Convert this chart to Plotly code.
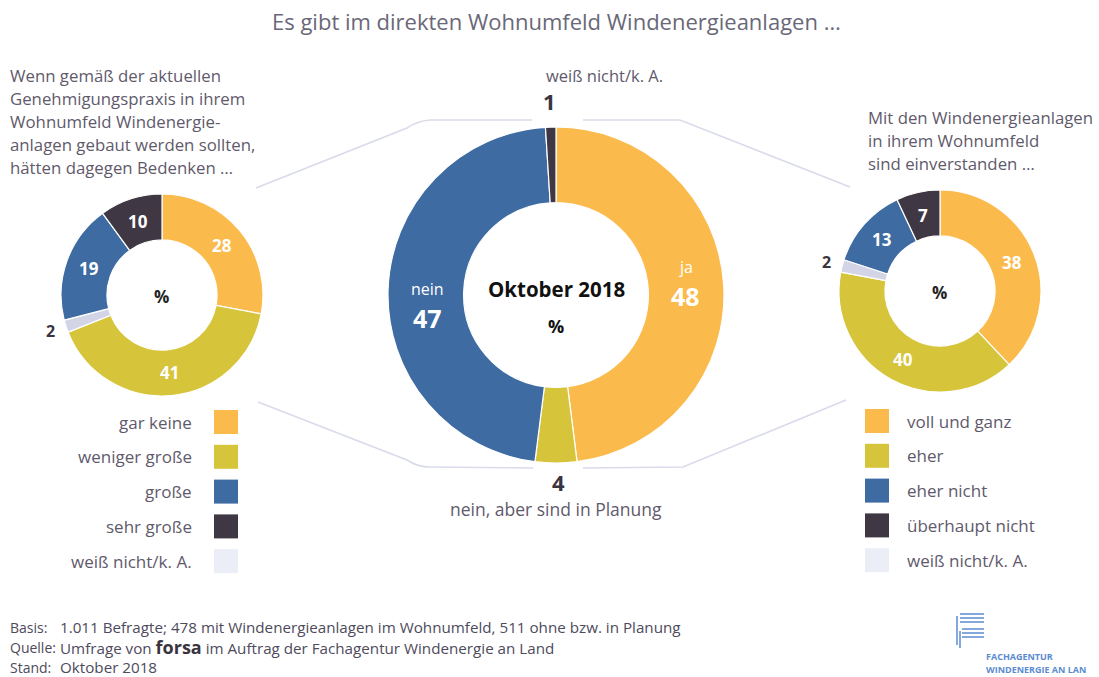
import math
import plotly.graph_objects as go

W, H = 1099, 677

# ---------------- data ----------------
center_labels = ["ja", "nein, aber sind in Planung", "nein", "weiß nicht/k. A."]
center_values = [48, 4, 47, 1]

left_labels = ["gar keine", "weniger große", "weiß nicht/k. A.", "große", "sehr große"]
left_values = [28, 41, 2, 19, 10]

right_labels = ["voll und ganz", "eher", "weiß nicht/k. A.", "eher nicht", "überhaupt nicht"]
right_values = [38, 40, 2, 13, 7]

left_legend = ["gar keine", "weniger große", "große", "sehr große", "weiß nicht/k. A."]
right_legend = ["voll und ganz", "eher", "eher nicht", "überhaupt nicht", "weiß nicht/k. A."]

title = "Es gibt im direkten Wohnumfeld Windenergieanlagen …"
left_question = ["Wenn gemäß der aktuellen", "Genehmigungspraxis in ihrem",
                 "Wohnumfeld Windenergie-", "anlagen gebaut werden sollten,",
                 "hätten dagegen Bedenken …"]
right_question = ["Mit den Windenergieanlagen", "in ihrem Wohnumfeld", "sind einverstanden …"]

# ---------------- style ----------------
ORANGE = "#FBBB4C"
YELLOW = "#D6C43B"
BLUE = "#3E6BA2"
DARK = "#3F3743"
LIGHT = "#D3D5E6"
LEGLIGHT = "#ECEEF7"
TXT = "#5F5A6B"
FONT = "Open Sans, Noto Sans, sans-serif"

center_colors = [ORANGE, YELLOW, BLUE, DARK]
small_colors = [ORANGE, YELLOW, LIGHT, BLUE, DARK]
legend_colors = [ORANGE, YELLOW, BLUE, DARK, LEGLIGHT]

# pie geometry (pixels)
pies = {
    "left": dict(cx=162, cy=295, r=101, hole=0.545),
    "center": dict(cx=556, cy=295, r=168, hole=0.55),
    "right": dict(cx=940, cy=291, r=101, hole=0.545),
}


def domain(p):
    return dict(x=[(p["cx"] - p["r"]) / W, (p["cx"] + p["r"]) / W],
                y=[1 - (p["cy"] + p["r"]) / H, 1 - (p["cy"] - p["r"]) / H])


def slice_points(values, p, rad_frac):
    """mid-angle positions (pixels) of the slices, clockwise from 12 o'clock"""
    tot = sum(values)
    cum = 0
    pts = []
    for v in values:
        mid = (cum + v / 2) / tot * 2 * math.pi
        cum += v
        rr = p["r"] * rad_frac
        pts.append((p["cx"] + rr * math.sin(mid), p["cy"] - rr * math.cos(mid)))
    return pts


fig = go.Figure()

for key, labels, values, colors in [
    ("left", left_labels, left_values, small_colors),
    ("center", center_labels, center_values, center_colors),
    ("right", right_labels, right_values, small_colors),
]:
    p = pies[key]
    fig.add_trace(go.Pie(
        labels=labels, values=values, sort=False, direction="clockwise",
        rotation=0, hole=p["hole"], domain=domain(p),
        marker=dict(colors=colors, line=dict(color="white", width=1.2)),
        textinfo="none", hoverinfo="label+value", showlegend=False,
    ))

annotations = []


def ann(x, y, text, size=17, color=TXT, xanchor="center", yanchor="middle",
        family=FONT, bold=False):
    if bold:
        text = "<b>" + text + "</b>"
    annotations.append(dict(x=x, y=y, xref="x", yref="y", text=text,
                            showarrow=False, xanchor=xanchor, yanchor=yanchor,
                            font=dict(size=size, color=color, family=family)))


# title
ann(556, 21, title, size=22, color="#6A6878")

# left question text
for i, line in enumerate(left_question):
    ann(8, 75 + i * 23, line, size=16.8, xanchor="left")
# right question text
for i, line in enumerate(right_question):
    ann(866, 117 + i * 23, line, size=16.8, xanchor="left")

# small donut labels
for key, values in [("left", left_values), ("right", right_values)]:
    p = pies[key]
    mid_pts = slice_points(values, p, 0.77)
    out_pts = slice_points(values, p, 1.16)
    for i, v in enumerate(values):
        if v <= 2:
            x, y = out_pts[i]
            ann(x, y, str(v), size=16, color="#3A3440", bold=True)
        else:
            x, y = mid_pts[i]
            ann(x, y, str(v), size=17, color="white", bold=True)
    ann(p["cx"] - 1, p["cy"] + 1, "%", size=17, color="#222", bold=True)

# center donut labels
pc = pies["center"]
cpts = slice_points(center_values, pc, 0.775)
ann(cpts[0][0], cpts[0][1] - 20, "ja", size=16, color="white")
ann(cpts[0][0], cpts[0][1] + 9, str(center_values[0]), size=25, color="white", bold=True)
ann(cpts[2][0] + 2, cpts[2][1] - 2, "nein", size=16, color="white")
ann(cpts[2][0] + 2, cpts[2][1] + 27, str(center_values[2]), size=25, color="white", bold=True)
ann(556, 289, "Oktober 2018", size=20.5, color="#111", bold=True)
ann(556, 326, "%", size=18, color="#111", bold=True)
ann(604, 75, center_labels[3], size=16.5)
ann(549, 101, str(center_values[3]), size=22, color="#3A3440", bold=True)
ann(558, 482, str(center_values[1]), size=22, color="#3A3440", bold=True)
ann(556, 509, center_labels[1], size=17.5)

# legends
shapes = []
for i, (lab, col) in enumerate(zip(left_legend, legend_colors)):
    y = 422 + i * 34.8
    shapes.append(dict(type="rect", xref="x", yref="y", x0=214, x1=238,
                       y0=y - 12, y1=y + 12, fillcolor=col, line=dict(width=0)))
    ann(194, y, lab, size=17, xanchor="right")
for i, (lab, col) in enumerate(zip(right_legend, legend_colors)):
    y = 421 + i * 34.8
    shapes.append(dict(type="rect", xref="x", yref="y", x0=865, x1=889,
                       y0=y - 12, y1=y + 12, fillcolor=col, line=dict(width=0)))
    ann(905, y, lab, size=17, xanchor="left")

# connector frame lines
LINEC = "#D9DBEA"
frame = [
    "M 256 188 L 407 128 Q 417 121 430 120 L 532 120",
    "M 583 120 L 680 120 L 850 187",
    "M 258 402 L 407 460 Q 417 467 430 467 L 533 468",
    "M 583 468 L 683 467 L 846 400",
]
for pth in frame:
    shapes.append(dict(type="path", xref="x", yref="y", path=pth,
                       line=dict(color=LINEC, width=1.6), layer="below"))

# footer
foot = [("Basis:", "1.011 Befragte; 478 mit Windenergieanlagen im Wohnumfeld, 511 ohne bzw. in Planung"),
        ("Quelle:", "Umfrage von <b><span style='font-size:18px;color:#3A3440'>forsa</span></b> im Auftrag der Fachagentur Windenergie an Land"),
        ("Stand:", "Oktober 2018")]
for i, (a, b) in enumerate(foot):
    y = 627 + i * 20
    ann(8, y, a, size=14, xanchor="left", color="#4E4A5C")
    ann(58, y, b, size=15.2, xanchor="left", color="#4E4A5C")

# logo
LOGO = "#5B8BD0"
for yy in (614, 618, 622):
    shapes.append(dict(type="line", xref="x", yref="y", x0=960, x1=984, y0=yy, y1=yy,
                       line=dict(color=LOGO, width=1.5)))
for yy in (629, 633, 637):
    shapes.append(dict(type="line", xref="x", yref="y", x0=962, x1=984, y0=yy, y1=yy,
                       line=dict(color=LOGO, width=1.5)))
shapes.append(dict(type="line", xref="x", yref="y", x0=957, x1=957, y0=616, y1=645,
                   line=dict(color=LOGO, width=1.5)))
shapes.append(dict(type="line", xref="x", yref="y", x0=960, x1=960, y0=631, y1=648,
                   line=dict(color=LOGO, width=1.5)))
ann(984, 656, "FACHAGENTUR", size=9, color=LOGO, xanchor="left", bold=True)
ann(984, 669, "WINDENERGIE AN LAN", size=9, color=LOGO, xanchor="left", bold=True)

fig.update_layout(
    width=W, height=H,
    margin=dict(l=0, r=0, t=0, b=0),
    paper_bgcolor="white", plot_bgcolor="rgba(0,0,0,0)",
    xaxis=dict(range=[0, W], visible=False, fixedrange=True),
    yaxis=dict(range=[H, 0], visible=False, fixedrange=True),
    annotations=annotations, shapes=shapes, showlegend=False,
)

fig.write_html("out.html",
               config={"displayModeBar": False},
               post_script="document.body.style.margin='0';document.body.style.padding='0';"
                           "document.body.style.overflow='hidden';")
